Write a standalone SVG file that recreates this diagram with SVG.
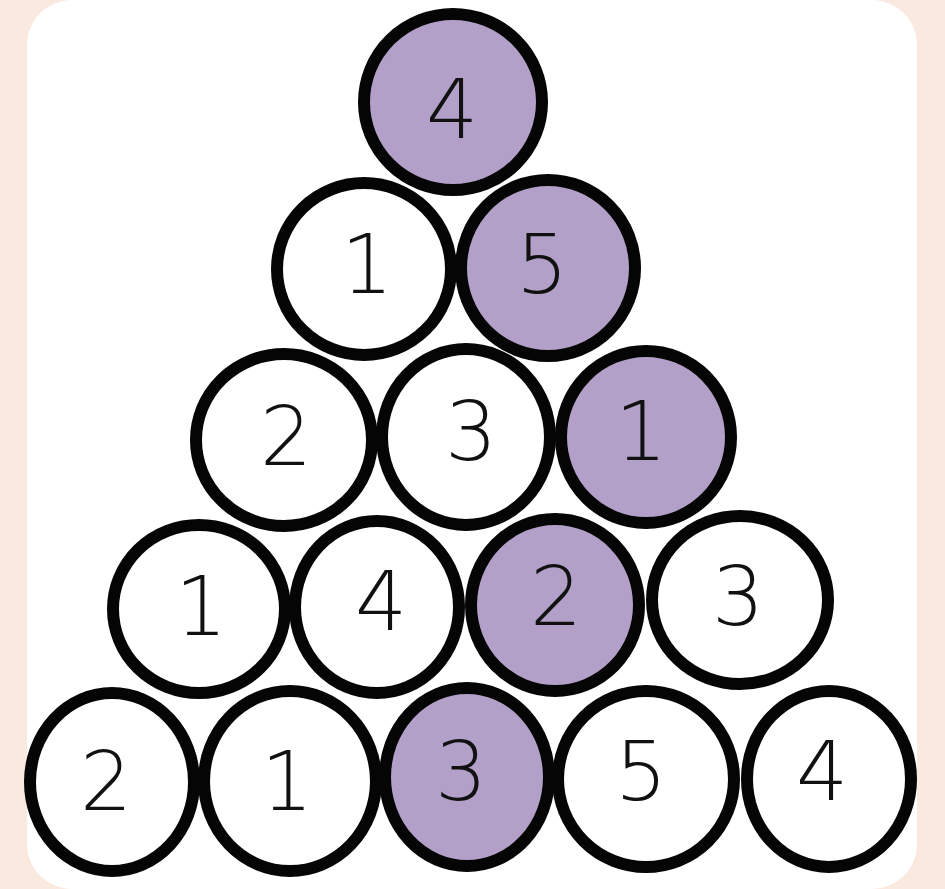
<svg xmlns="http://www.w3.org/2000/svg" width="945" height="889" viewBox="0 0 945 889">
  <style>
    .c { stroke: #050505; stroke-width: 12; }
    .w { fill: #ffffff; }
    .p { fill: #b3a0c8; }
    .t { font-family: "DejaVu Sans", "Liberation Sans", sans-serif; font-weight: 200; font-size: 82px; fill: #111111; text-anchor: middle; }
  </style>
  <rect x="0" y="0" width="945" height="889" fill="#fae9de"/>
  <rect x="27" y="0" width="890" height="889" rx="45" ry="45" fill="#ffffff"/>
  <g id="connectors"></g>
  <g id="n1"><ellipse class="c p" cx="453" cy="102" rx="89" ry="88"/><text class="t" x="452" y="138">4</text></g>
  <g id="n2"><ellipse class="c w" cx="364" cy="269" rx="87" ry="86"/><text class="t" x="367" y="293">1</text></g>
  <g id="n3"><ellipse class="c p" cx="548" cy="268" rx="87" ry="88"/><text class="t" x="542" y="293">5</text></g>
  <g id="n4"><ellipse class="c w" cx="284" cy="440" rx="88" ry="86"/><text class="t" x="286" y="465">2</text></g>
  <g id="n5"><ellipse class="c w" cx="466" cy="437" rx="84" ry="88"/><text class="t" x="471" y="460">3</text></g>
  <g id="n6"><ellipse class="c p" cx="646" cy="437" rx="85" ry="86"/><text class="t" x="641" y="460">1</text></g>
  <g id="n7"><ellipse class="c w" cx="199" cy="609" rx="86" ry="84"/><text class="t" x="201" y="635">1</text></g>
  <g id="n8"><ellipse class="c w" cx="377" cy="607" rx="82" ry="86"/><text class="t" x="381" y="630">4</text></g>
  <g id="n9"><ellipse class="c p" cx="555" cy="605" rx="84" ry="86"/><text class="t" x="556" y="625">2</text></g>
  <g id="n10"><ellipse class="c w" cx="740" cy="600" rx="88" ry="84"/><text class="t" x="738" y="625">3</text></g>
  <g id="n11"><ellipse class="c w" cx="112" cy="782" rx="82" ry="89"/><text class="t" x="106" y="810">2</text></g>
  <g id="n12"><ellipse class="c w" cx="290" cy="781" rx="86" ry="90"/><text class="t" x="287" y="810">1</text></g>
  <g id="n13"><ellipse class="c p" cx="467" cy="777" rx="82" ry="89"/><text class="t" x="461" y="800">3</text></g>
  <g id="n14"><ellipse class="c w" cx="646" cy="779" rx="88" ry="88"/><text class="t" x="641" y="800">5</text></g>
  <g id="n15"><ellipse class="c w" cx="829" cy="779" rx="82" ry="88"/><text class="t" x="822" y="800">4</text></g>
</svg>
